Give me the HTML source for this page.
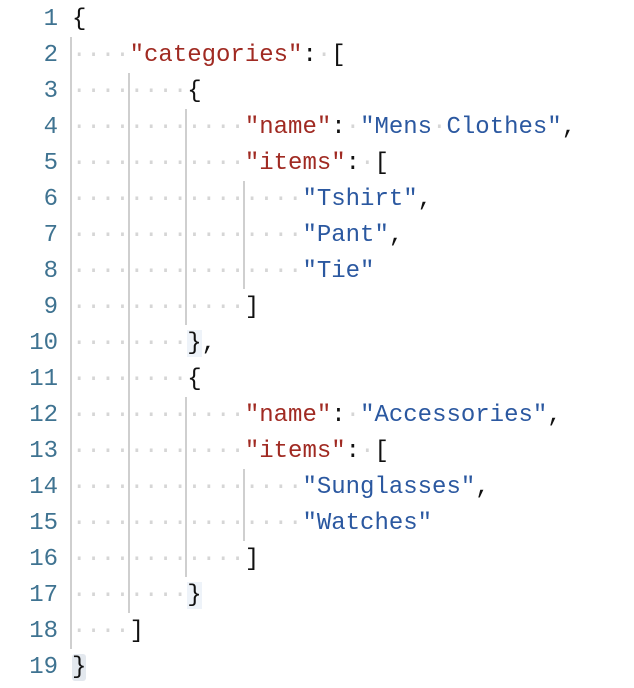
<!DOCTYPE html>
<html><head><meta charset="utf-8"><style>
body{margin:0;width:634px;height:688px;background:#fff;overflow:hidden;position:relative;font-family:"Liberation Mono",monospace;font-size:24px}
.ln{position:absolute;left:0;width:58px;text-align:right;color:#3f7391;height:36px;line-height:38px}
.l{position:absolute;left:72px;height:36px;line-height:38px;white-space:pre;color:#111}
.d{color:#d6d6d6}
.k{color:#a02a22}
.s{color:#2b58a0}
.g{position:absolute;width:2px;background:#cfcfcf}
.h{background:#eef3f9}
.h2{background:#e3e8ee;border-radius:3px}
</style></head><body>
<div class="g" style="left:70px;top:37px;height:612px"></div>
<div class="g" style="left:128px;top:73px;height:540px"></div>
<div class="g" style="left:185px;top:109px;height:216px"></div>
<div class="g" style="left:185px;top:397px;height:180px"></div>
<div class="g" style="left:243px;top:181px;height:108px"></div>
<div class="g" style="left:243px;top:469px;height:72px"></div>

<div class="ln" style="top:1px">1</div><div class="l" style="top:1px">{</div>
<div class="ln" style="top:37px">2</div><div class="l" style="top:37px"><span class="d">····</span><span class="k">"categories"</span>:<span class="d">·</span>[</div>
<div class="ln" style="top:73px">3</div><div class="l" style="top:73px"><span class="d">········</span>{</div>
<div class="ln" style="top:109px">4</div><div class="l" style="top:109px"><span class="d">············</span><span class="k">"name"</span>:<span class="d">·</span><span class="s">"Mens<span class="d">·</span>Clothes"</span>,</div>
<div class="ln" style="top:145px">5</div><div class="l" style="top:145px"><span class="d">············</span><span class="k">"items"</span>:<span class="d">·</span>[</div>
<div class="ln" style="top:181px">6</div><div class="l" style="top:181px"><span class="d">················</span><span class="s">"Tshirt"</span>,</div>
<div class="ln" style="top:217px">7</div><div class="l" style="top:217px"><span class="d">················</span><span class="s">"Pant"</span>,</div>
<div class="ln" style="top:253px">8</div><div class="l" style="top:253px"><span class="d">················</span><span class="s">"Tie"</span></div>
<div class="ln" style="top:289px">9</div><div class="l" style="top:289px"><span class="d">············</span>]</div>
<div class="ln" style="top:325px">10</div><div class="l" style="top:325px"><span class="d">········</span><span class="h">}</span>,</div>
<div class="ln" style="top:361px">11</div><div class="l" style="top:361px"><span class="d">········</span>{</div>
<div class="ln" style="top:397px">12</div><div class="l" style="top:397px"><span class="d">············</span><span class="k">"name"</span>:<span class="d">·</span><span class="s">"Accessories"</span>,</div>
<div class="ln" style="top:433px">13</div><div class="l" style="top:433px"><span class="d">············</span><span class="k">"items"</span>:<span class="d">·</span>[</div>
<div class="ln" style="top:469px">14</div><div class="l" style="top:469px"><span class="d">················</span><span class="s">"Sunglasses"</span>,</div>
<div class="ln" style="top:505px">15</div><div class="l" style="top:505px"><span class="d">················</span><span class="s">"Watches"</span></div>
<div class="ln" style="top:541px">16</div><div class="l" style="top:541px"><span class="d">············</span>]</div>
<div class="ln" style="top:577px">17</div><div class="l" style="top:577px"><span class="d">········</span><span class="h">}</span></div>
<div class="ln" style="top:613px">18</div><div class="l" style="top:613px"><span class="d">····</span>]</div>
<div class="ln" style="top:649px">19</div><div class="l" style="top:649px"><span class="h2">}</span></div>
</body></html>
